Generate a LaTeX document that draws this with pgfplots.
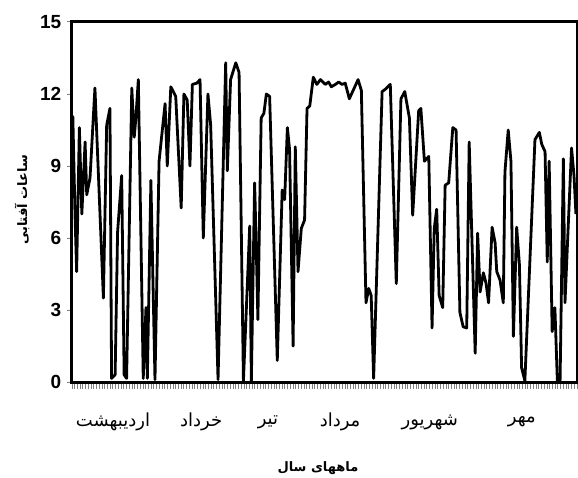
\documentclass[border=0pt]{standalone}
\usepackage{fontspec}
\setmainfont{Liberation Sans}
\newfontfamily\arabicfont[Script=Arabic]{DejaVu Sans}
\usepackage{pgfplots}
\pgfplotsset{compat=1.18}
\TeXXeTstate=1
\pgfplotstableread{
day hours
0.3 11.1
1.1 7.0
1.7 4.6
2.7 10.6
3.6 7.0
4.8 10.0
5.4 7.8
6.6 8.5
8.4 12.25
11.5 3.5
12.7 10.7
13.9 11.4
14.5 0.15
15.8 0.3
16.7 6.25
18.2 8.6
19.1 0.3
20.0 0.15
21.9 12.25
22.8 10.2
23.4 11.0
24.3 12.6
26.1 0.15
27.1 3.1
27.6 0.15
28.9 8.4
30.4 0.1
31.9 9.2
34.1 11.6
34.9 9.0
36.2 12.3
38.0 11.9
40.0 7.25
41.0 12.0
42.2 11.75
43.2 9.0
44.1 12.4
45.7 12.45
46.9 12.6
48.1 6.0
49.8 12.0
50.8 10.7
53.5 0.1
56.3 13.3
56.9 8.8
58.1 12.6
60.0 13.3
61.2 12.9
62.8 0.05
65.1 6.5
65.7 0.05
66.9 8.3
67.5 5.6
68.1 2.6
69.3 11.0
70.3 11.2
71.2 12.0
72.4 11.9
75.2 0.9
77.0 8.0
77.9 7.6
78.9 10.6
79.7 9.7
81.0 1.5
81.8 9.8
82.8 4.6
84.0 6.4
85.2 6.75
86.1 11.4
87.1 11.5
88.4 12.7
89.7 12.4
91.0 12.6
92.8 12.4
94.0 12.5
95.0 12.3
96.5 12.4
97.7 12.5
98.9 12.4
100.1 12.45
101.6 11.8
103.2 12.2
104.8 12.6
106.0 12.15
107.7 3.3
108.7 3.9
109.6 3.6
110.5 0.15
113.6 12.1
114.8 12.2
116.6 12.4
118.8 4.1
120.5 11.8
121.9 12.1
123.6 11.0
124.8 6.95
127.0 11.3
127.8 11.4
129.1 9.2
130.7 9.4
131.9 2.25
132.7 6.4
133.6 7.2
134.5 3.6
135.8 3.1
136.7 8.2
138.0 8.3
139.5 10.6
140.7 10.5
142.1 2.9
143.3 2.3
144.6 2.25
145.5 10.0
147.7 1.2
148.6 6.2
149.5 3.75
150.7 4.55
151.7 4.1
152.6 3.3
153.9 6.45
155.0 5.8
155.6 4.6
156.8 4.25
158.0 3.3
158.6 8.75
159.8 10.5
160.8 9.2
161.7 1.9
162.9 6.45
163.9 4.9
164.7 0.6
165.9 0.05
169.6 10.1
171.2 10.4
172.1 9.9
173.3 9.6
174.1 5.0
174.8 9.2
175.9 2.1
176.9 3.1
177.8 0.05
178.8 0.05
180.0 9.3
180.6 3.3
181.6 6.0
183.0 9.75
183.9 8.6
184.6 7.0
}\sunshine
\begin{document}
\begin{tikzpicture}[x=1pt,y=1pt]
\useasboundingbox (-72,-95) rectangle (506,382);
\begin{axis}[
  at={(0,0)}, anchor=south west,
  width=505pt, height=360pt, scale only axis,
  xmin=0, xmax=185, ymin=0, ymax=15,
  clip mode=individual,
  axis line style={line width=3pt},
  tick align=outside,
  xtick pos=bottom, ytick pos=left,
  ytick={0,3,6,9,12,15},
  ytick style={line width=1pt, /pgfplots/major tick length=5pt},
  xtick={0,1,...,185},
  xticklabels=\empty,
  xtick style={line width=0.9pt, /pgfplots/major tick length=7pt},
  /pgf/number format/assume math mode=true,
  yticklabel style={font=\fontsize{19}{22}\selectfont\bfseries, xshift=-3pt},
  ylabel={\arabicfont\bfseries\beginR ساعات آفتابی\endR},
  xlabel={\arabicfont\bfseries\beginR ماههای سال\endR},
  every axis y label/.style={at={(rel axis cs:0,0.506)}, xshift=-50pt, rotate=90, anchor=center, font=\fontsize{13}{15}\selectfont},
  every axis x label/.style={at={(rel axis cs:0.487,0)}, anchor=center, yshift=-86pt, font=\fontsize{13}{15}\selectfont},
]
\addplot[black, line width=2.8pt, line join=round] table[x=day, y=hours] {\sunshine};
\node[font=\fontsize{18}{20}\selectfont\arabicfont] at (axis cs:15,0) [yshift=-40pt] {\beginR اردیبهشت\endR};
\node[font=\fontsize{18}{20}\selectfont\arabicfont] at (axis cs:47.3,0) [yshift=-40pt] {\beginR خرداد\endR};
\node[font=\fontsize{18}{20}\selectfont\arabicfont] at (axis cs:71.8,0) [yshift=-40pt] {\beginR تیر\endR};
\node[font=\fontsize{18}{20}\selectfont\arabicfont] at (axis cs:98.2,0) [yshift=-40pt] {\beginR مرداد\endR};
\node[font=\fontsize{18}{20}\selectfont\arabicfont] at (axis cs:131.1,0) [yshift=-40pt] {\beginR شهریور\endR};
\node[font=\fontsize{18}{20}\selectfont\arabicfont] at (axis cs:164.8,0) [yshift=-40pt] {\beginR مهر\endR};
\end{axis}
\end{tikzpicture}
\end{document}
